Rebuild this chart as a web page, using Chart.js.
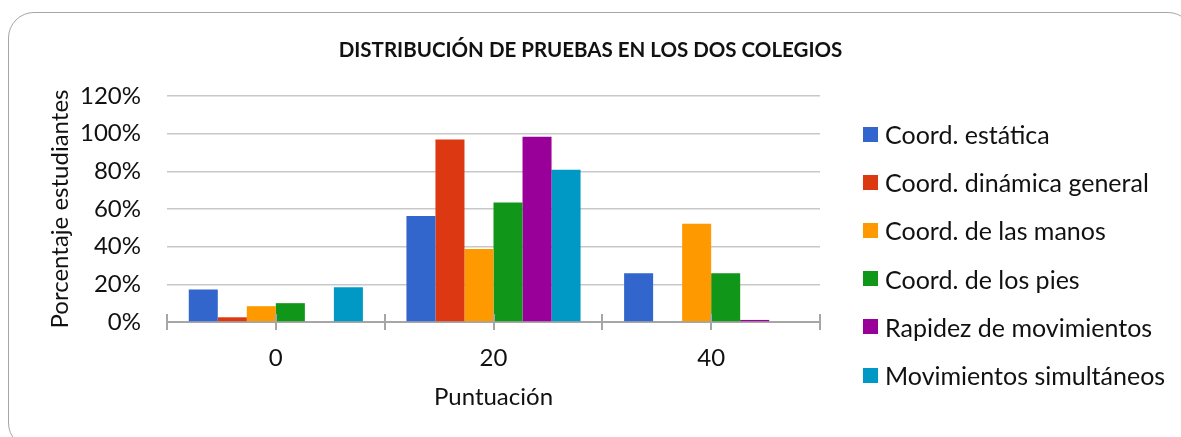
<!DOCTYPE html>
<html>
<head>
<meta charset="utf-8">
<script src="https://cdn.jsdelivr.net/npm/chart.js@4.4.1/dist/chart.umd.min.js"></script>
<style>
  body { margin: 0; background: #fff; font-family: Lato, sans-serif; }
  #frame { position: absolute; left: 8px; top: 12px; width: 1186px; height: 437px;
           border: 1.5px solid #a6a6a6; border-radius: 26px; box-sizing: border-box; }
  #chartTitle { position: absolute; left: 0; width: 1181px; top: 37px; text-align: center;
                font-weight: bold; font-size: 20.5px; color: #111; }
  #legend { position: absolute; left: 863px; top: 110px; }
  .item { height: 48.2px; display: flex; align-items: center; font-size: 25px; color: #111; }
  .box { width: 15px; height: 15px; margin-right: 7px; }
  canvas { position: absolute; left: 0; top: 0; }
</style>
</head>
<body>
<div id="frame"></div>
<canvas id="pruebasChart" width="1181" height="437"></canvas>
<div id="chartTitle">DISTRIBUCIÓN DE PRUEBAS EN LOS DOS COLEGIOS</div>
<div id="legend"></div>
<script>
// Puntuación obtenida (categorías del eje x)
const scoreLabels = ["0", "20", "40"];

const seriesNames = [
    "Coord. estática",
    "Coord. dinámica general",
    "Coord. de las manos",
    "Coord. de los pies",
    "Rapidez de movimientos",
    "Movimientos simultáneos"
];
const seriesColors = ["#3366CC", "#DC3912", "#FF9900", "#109618", "#990099", "#0099C6"];

// Porcentaje de estudiantes por prueba
const coordEstatica = [17.2, 56.3, 25.9];
const coordDinamica = [2.5, 96.9, 0];
const coordManos = [8.4, 38.8, 52.2];
const coordPies = [10.0, 63.5, 25.9];
const rapidez = [0, 98.3, 1.1];
const simultaneos = [18.4, 80.8, 0];

const yTicks = [0, 20, 40, 60, 80, 100, 120];

const seriesData = [coordEstatica, coordDinamica, coordManos, coordPies, rapidez, simultaneos];

// leyenda a la derecha
let legendEl = document.getElementById("legend");
seriesNames.forEach((name, i) => {
    let row = document.createElement("div");
    row.className = "item";
    row.innerHTML = `<div class="box" style="background:${seriesColors[i]}"></div><span>${name}</span>`;
    legendEl.appendChild(row);
});

// marcas del eje x en el centro y en los bordes de cada categoría
const xTickMarks = {
    id: "xTickMarks",
    afterDraw(chart) {
        let ctx = chart.ctx;
        let x = chart.scales.x;
        let y0 = chart.chartArea.bottom;
        ctx.save();
        ctx.strokeStyle = "#a6a6a6";
        ctx.lineWidth = 2;
        for (let i = 0; i < scoreLabels.length; i++) {
            [i - 0.5, i, i + 0.5].forEach(v => {
                let px = Math.round(x.getPixelForValue(v));
                ctx.beginPath();
                ctx.moveTo(px, y0 - 8);
                ctx.lineTo(px, y0 + 8);
                ctx.stroke();
            });
        }
        ctx.restore();
    }
};

let ctx = document.getElementById("pruebasChart").getContext("2d");
new Chart(ctx, {
    type: "bar",
    data: {
        labels: scoreLabels,
        datasets: seriesData.map((d, i) => ({
            label: seriesNames[i],
            data: d,
            backgroundColor: seriesColors[i],
            categoryPercentage: 0.8,
            barPercentage: 1.0
        }))
    },
    options: {
        responsive: false,
        animation: false,
        devicePixelRatio: 1,
        layout: { padding: { left: 0, right: 361, top: 96, bottom: 0 } },
        plugins: {
            legend: { display: false },
            tooltip: { enabled: false }
        },
        scales: {
            x: {
                grid: { display: false },
                border: { color: "#a6a6a6", width: 2 },
                ticks: { color: "#111", font: { family: "Lato", size: 24 }, padding: 14 },
                title: {
                    display: true, text: "Puntuación", color: "#111",
                    font: { family: "Lato", size: 24 }, padding: { bottom: 25 }
                },
                afterFit(scale) { scale.height = 115; }
            },
            y: {
                min: 0,
                max: 120,
                afterBuildTicks(scale) { scale.ticks = yTicks.map(v => ({ value: v })); },
                grid: { color: "#c8c8c8", lineWidth: 1.5, drawTicks: false },
                border: { display: false },
                ticks: {
                    color: "#111", font: { family: "Lato", size: 24 }, padding: 26,
                    callback: v => v + "%"
                },
                title: {
                    display: true, text: "Porcentaje estudiantes", color: "#111",
                    font: { family: "Lato", size: 24 }, padding: { top: 46 }
                },
                afterFit(scale) { scale.width = 167; }
            }
        }
    },
    plugins: [xTickMarks]
});
</script>
</body>
</html>
